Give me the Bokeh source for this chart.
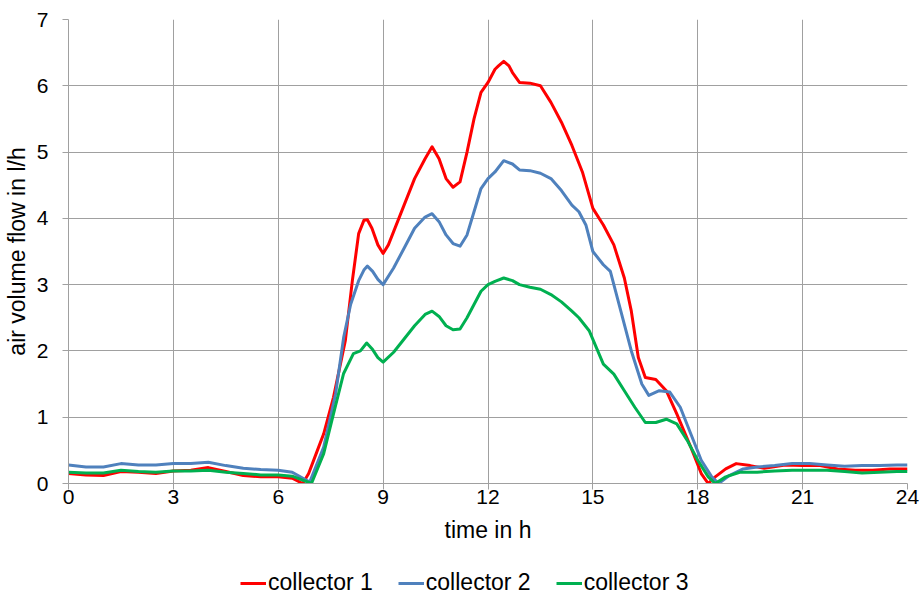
from bokeh.plotting import figure
from bokeh.layouts import column
from bokeh.models import Range1d, FixedTicker, Legend, LegendItem
from bokeh.embed import file_html
from bokeh.resources import INLINE

t1 = [0, 0.5, 1, 1.5, 2, 2.5, 3, 3.5, 4, 4.5, 5, 5.5, 6, 6.4, 6.7, 6.87, 7.12, 7.3, 7.58, 7.92, 8.12, 8.3, 8.45,
      8.55, 8.68, 8.85, 9.0, 9.15, 9.3, 9.6, 9.9, 10.2, 10.4, 10.6, 10.8, 11.0, 11.2, 11.4, 11.6, 11.8, 12.0, 12.2,
      12.3, 12.45, 12.6, 12.7, 12.9, 13.2, 13.5, 13.8, 14.1, 14.4, 14.7, 15.0, 15.3, 15.6, 15.9, 16.1, 16.3, 16.5,
      16.8, 17.1, 17.4, 17.8, 18.1, 18.3, 18.5, 18.8, 19.1, 19.5, 19.9, 20.5, 21, 21.5, 22, 22.5, 23, 23.5, 24]
c1 = [0.15, 0.13, 0.12, 0.18, 0.17, 0.15, 0.19, 0.2, 0.24, 0.18, 0.12, 0.1, 0.1, 0.08, 0.0, 0.15, 0.5, 0.75, 1.3,
      2.16, 3.06, 3.77, 3.97, 3.98, 3.85, 3.6, 3.47, 3.6, 3.8, 4.2, 4.6, 4.9, 5.08, 4.9, 4.6, 4.47, 4.55, 5.0, 5.5,
      5.9, 6.05, 6.25, 6.3, 6.37, 6.3, 6.2, 6.05, 6.04, 6.0, 5.75, 5.45, 5.1, 4.7, 4.15, 3.9, 3.6, 3.1, 2.6, 1.9,
      1.6, 1.57, 1.4, 1.05, 0.55, 0.15, 0.0, 0.1, 0.22, 0.3, 0.27, 0.23, 0.28, 0.27, 0.27, 0.22, 0.2, 0.2, 0.22,
      0.22]

t2 = [0, 0.5, 1, 1.5, 2, 2.5, 3, 3.5, 4, 4.5, 5, 5.5, 6, 6.4, 6.9, 7.3, 7.64, 7.87, 8.07, 8.3, 8.45, 8.55, 8.7,
      8.85, 9.0, 9.3, 9.6, 9.9, 10.2, 10.4, 10.6, 10.8, 11.0, 11.2, 11.4, 11.6, 11.8, 12.0, 12.2, 12.45, 12.7, 12.9,
      13.2, 13.5, 13.8, 14.1, 14.4, 14.6, 14.8, 15.0, 15.3, 15.5, 15.8, 16.1, 16.4, 16.6, 16.9, 17.2, 17.5, 17.8,
      18.1, 18.4, 18.6, 18.9, 19.3, 19.7, 20.2, 20.7, 21.2, 21.7, 22.2, 22.7, 23.2, 23.7, 24]
c2 = [0.28, 0.25, 0.25, 0.3, 0.28, 0.28, 0.3, 0.3, 0.32, 0.27, 0.23, 0.21, 0.2, 0.17, 0.02, 0.55, 1.35, 2.2, 2.7,
      3.06, 3.22, 3.28, 3.2, 3.08, 3.0, 3.25, 3.55, 3.85, 4.02, 4.07, 3.95, 3.75, 3.62, 3.58, 3.75, 4.1, 4.45,
      4.6, 4.7, 4.87, 4.82, 4.73, 4.72, 4.68, 4.6, 4.42, 4.2, 4.1, 3.9, 3.5, 3.3, 3.2, 2.6, 2.0, 1.5, 1.33, 1.4,
      1.38, 1.15, 0.75, 0.35, 0.1, 0.0, 0.12, 0.22, 0.25, 0.27, 0.3, 0.3, 0.28, 0.26, 0.27, 0.27, 0.28, 0.28]

t3 = [0, 0.5, 1, 1.5, 2, 2.5, 3, 3.5, 4, 4.5, 5, 5.5, 6, 6.4, 6.95, 7.3, 7.58, 7.87, 8.15, 8.35, 8.53, 8.7, 8.85,
      9.0, 9.3, 9.6, 9.9, 10.2, 10.4, 10.6, 10.8, 11.0, 11.2, 11.4, 11.6, 11.8, 12.0, 12.2, 12.45, 12.7, 12.9, 13.2,
      13.5, 13.8, 14.1, 14.4, 14.6, 14.9, 15.1, 15.3, 15.6, 15.9, 16.2, 16.5, 16.8, 17.1, 17.4, 17.7, 18.0, 18.3,
      18.5, 18.8, 19.2, 19.7, 20.2, 20.7, 21.2, 21.7, 22.2, 22.7, 23.2, 23.7, 24]
c3 = [0.17, 0.16, 0.16, 0.2, 0.18, 0.17, 0.19, 0.19, 0.2, 0.17, 0.15, 0.13, 0.13, 0.11, 0.0, 0.45, 1.05, 1.66,
      1.96, 2.0, 2.12, 2.02, 1.9, 1.83, 1.98, 2.18, 2.38, 2.55, 2.6, 2.52, 2.38, 2.32, 2.33, 2.5, 2.7, 2.9, 3.0,
      3.05, 3.1, 3.06, 3.0, 2.96, 2.93, 2.85, 2.74, 2.6, 2.5, 2.3, 2.05, 1.8, 1.65, 1.4, 1.15, 0.92, 0.92, 0.97,
      0.9, 0.65, 0.35, 0.1, 0.0, 0.1, 0.17, 0.17, 0.19, 0.2, 0.2, 0.2, 0.18, 0.16, 0.17, 0.18, 0.18]

labels = ["collector 1", "collector 2", "collector 3"]
colors = ["#ff0000", "#4f81bd", "#00b050"]
x_ticks = [0, 3, 6, 9, 12, 15, 18, 21, 24]
y_ticks = [0, 1, 2, 3, 4, 5, 6, 7]

FONT = "Liberation Sans"
series_t = [t1, t2, t3]
series_c = [c1, c2, c3]

p = figure(width=922, height=569, output_backend="svg", toolbar_location=None,
           x_range=Range1d(0, 24), y_range=Range1d(0, 7),
           min_border_left=68, min_border_right=15, min_border_top=19, min_border_bottom=86)
p.outline_line_color = None

for t, c, col in zip(series_t, series_c, colors):
    p.line(t, c, line_color=col, line_width=3, line_join="round")

for ax in (p.xaxis[0], p.yaxis[0]):
    ax.axis_line_color = "#a0a0a0"
    ax.major_tick_line_color = "#a0a0a0"
    ax.major_tick_in = 0
    ax.major_tick_out = 6
    ax.minor_tick_line_color = None
    ax.major_label_text_font = FONT
    ax.major_label_text_font_size = "21px"
    ax.major_label_text_color = "#000000"
    ax.axis_label_text_font = FONT
    ax.axis_label_text_font_size = "23px"
    ax.axis_label_text_font_style = "normal"
    ax.axis_label_text_color = "#000000"

p.xaxis[0].ticker = FixedTicker(ticks=x_ticks)
p.yaxis[0].ticker = FixedTicker(ticks=y_ticks)
p.xaxis[0].axis_label = "time in h"
p.yaxis[0].axis_label = "air volume flow in l/h"
p.xaxis[0].major_label_standoff = 0
p.yaxis[0].major_label_standoff = 14
p.xaxis[0].axis_label_standoff = 10
p.yaxis[0].axis_label_standoff = 4

p.xgrid.ticker = FixedTicker(ticks=x_ticks)
p.ygrid.ticker = FixedTicker(ticks=y_ticks)
for g in (p.xgrid[0], p.ygrid[0]):
    g.grid_line_color = "#a0a0a0"
    g.grid_line_width = 1

# legend strip below the chart (its series are drawn outside its empty view range)
lg = figure(width=922, height=27, output_backend="svg", toolbar_location=None,
            x_range=Range1d(-100, -99), y_range=Range1d(-100, -99),
            min_border_left=0, min_border_right=0, min_border_top=0, min_border_bottom=0)
lg.axis.visible = False
lg.grid.visible = False
lg.outline_line_color = None
keys = [lg.line(t, c, line_color=col, line_width=3) for t, c, col in zip(series_t, series_c, colors)]
legend = Legend(items=[LegendItem(label=l, renderers=[r]) for l, r in zip(labels, keys)],
                orientation="horizontal", location=(172, 0),
                label_text_font=FONT, label_text_font_size="23px", label_text_color="#000000",
                glyph_width=26, glyph_height=20, label_standoff=2, spacing=25,
                border_line_color=None, background_fill_alpha=0, margin=0, padding=0)
lg.add_layout(legend, "center")

layout = column(p, lg, spacing=0)
open("out.html", "w").write(file_html(layout, INLINE))
